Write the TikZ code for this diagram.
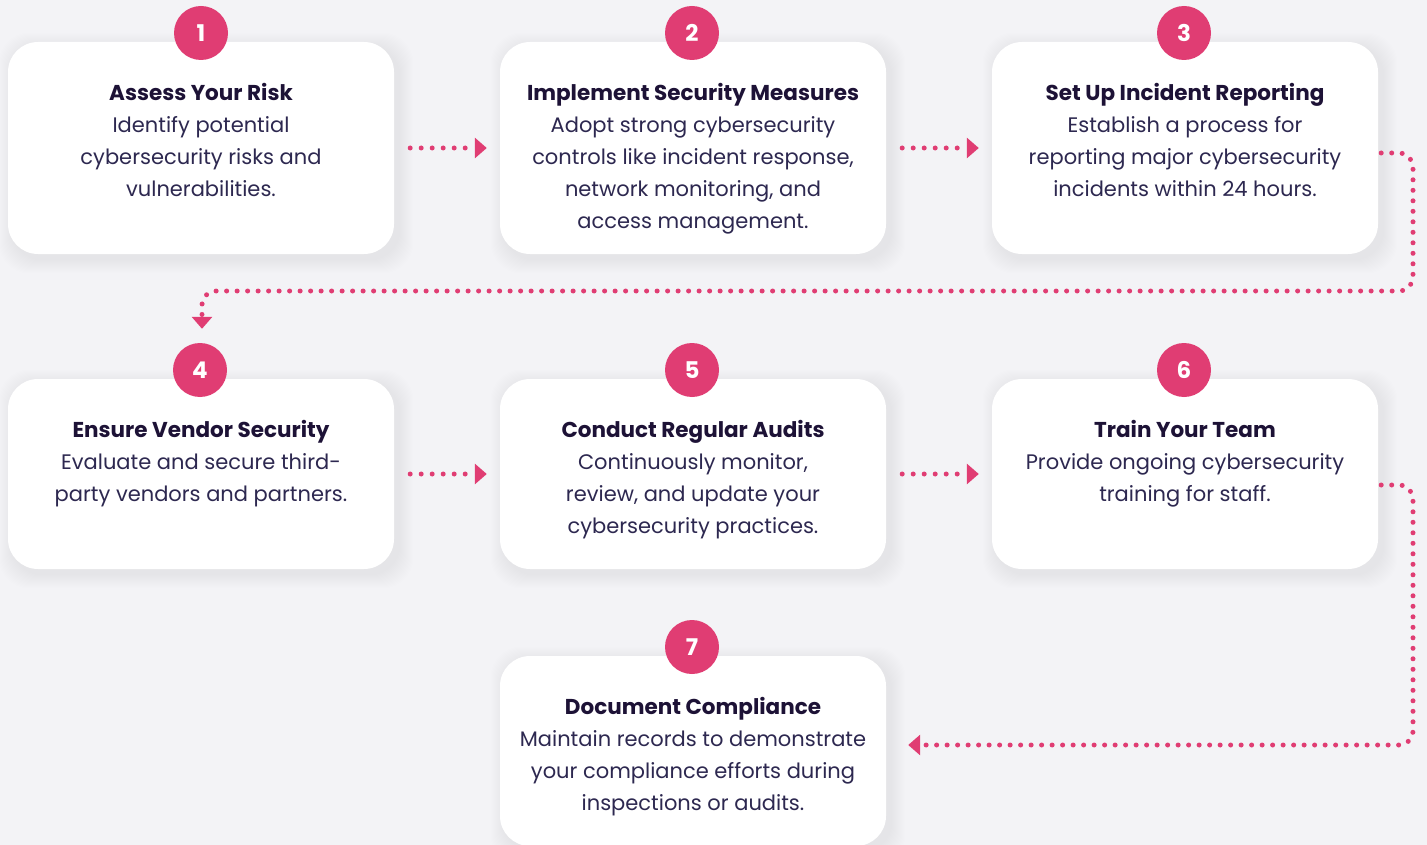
\documentclass[tikz,border=0pt]{standalone}
\usepackage{fontspec}
\setmainfont{Poppins}
\usetikzlibrary{arrows.meta,calc}
\definecolor{bg}{HTML}{F3F3F6}
\definecolor{pink}{HTML}{E03D73}
\definecolor{ink}{HTML}{1D1236}
\definecolor{bodyink}{HTML}{2D2850}
\pgfdeclarelayer{bottom}
\pgfdeclarelayer{background}
\pgfsetlayers{bottom,background,main}
\newcommand\steptitle[1]{{\fontsize{21.5}{32}\selectfont\bfseries\color{ink}#1}}
\tikzset{
  card/.style={rectangle, rounded corners=30pt, fill=white, minimum width=386pt, inner sep=0pt},
  num/.style={circle, fill=pink, minimum size=54pt, inner sep=0pt, text=white, font=\fontsize{23}{23}\selectfont\bfseries},
  txt/.style={align=center, inner sep=0pt, text=bodyink, font=\fontsize{21}{32}\selectfont, anchor=north},
  dots/.style={pink, line width=5pt, line cap=round, dash pattern=on 0pt off 11pt, -{Triangle[length=12pt,width=20pt]}},
}
\begin{document}
\begin{tikzpicture}[x=1pt,y=-1pt]
\begin{pgfonlayer}{bottom}
\fill[bg] (0,0) rectangle (1427,845);
\end{pgfonlayer}
\useasboundingbox (0,0) rectangle (1427,845);

% cards
\node[card, minimum height=212pt] (c1) at (201,148) {};
\node[card, minimum height=212pt] (c2) at (693,148) {};
\node[card, minimum height=212pt] (c3) at (1185,148) {};
\node[card, minimum height=190pt] (c4) at (201,474) {};
\node[card, minimum height=190pt] (c5) at (693,474) {};
\node[card, minimum height=190pt] (c6) at (1185,474) {};
\node[card, minimum height=190pt] (c7) at (693,751) {};

\begin{pgfonlayer}{background}
\foreach \c in {c1,c2,c3,c4,c5,c6,c7}{
  \foreach \i in {1,...,14}{
    \fill[black, opacity=0.005, rounded corners=30pt]
      ($(\c.south west)+(-\i+5,\i+5)$) rectangle ($(\c.north east)+(\i+5,-\i+5)$);
  }
}
\end{pgfonlayer}

% numbers
\node[num] (n1) at (201,33) {1};
\node[num] (n2) at (692,33) {2};
\node[num] (n3) at (1184,33) {3};
\node[num] (n4) at (200,370) {4};
\node[num] (n5) at (692,370) {5};
\node[num] (n6) at (1184,370) {6};
\node[num] (n7) at (692,647) {7};

% texts
\node[txt] (t1) at ($(c1.north)+(0,41)$) {\steptitle{Assess Your Risk}\\Identify potential\\cybersecurity risks and\\vulnerabilities.};
\node[txt] (t2) at ($(c2.north)+(0,41)$) {\steptitle{Implement Security Measures}\\Adopt strong cybersecurity\\controls like incident response,\\network monitoring, and\\access management.};
\node[txt] (t3) at ($(c3.north)+(0,41)$) {\steptitle{Set Up Incident Reporting}\\Establish a process for\\reporting major cybersecurity\\incidents within 24 hours.};
\node[txt] (t4) at ($(c4.north)+(0,41)$) {\steptitle{Ensure Vendor Security}\\Evaluate and secure third-\\party vendors and partners.};
\node[txt] (t5) at ($(c5.north)+(0,41)$) {\steptitle{Conduct Regular Audits}\\Continuously monitor,\\review, and update your\\cybersecurity practices.};
\node[txt] (t6) at ($(c6.north)+(0,41)$) {\steptitle{Train Your Team}\\Provide ongoing cybersecurity\\training for staff.};
\node[txt] (t7) at ($(c7.north)+(0,41)$) {\steptitle{Document Compliance}\\Maintain records to demonstrate\\your compliance efforts during\\inspections or audits.};

% connectors
\draw[dots] ($(c1.east)+(16,0)$) -- ($(c2.west)+(-13,0)$);
\draw[dots] ($(c2.east)+(16,0)$) -- ($(c3.west)+(-13,0)$);
\draw[dots] ($(c4.east)+(16,0)$) -- ($(c5.west)+(-13,0)$);
\draw[dots] ($(c5.east)+(16,0)$) -- ($(c6.west)+(-13,0)$);

\coordinate (r1) at (1413,291);
\coordinate (r2) at (1413,745);
\draw[dots, dash pattern=on 0pt off 10.5pt, rounded corners=14pt]
  ($(c3.east)+(3,5)$) -| (r1) -| ($(n4.north)+(2,-14)$);
\draw[dots, dash pattern=on 0pt off 10.5pt, rounded corners=14pt]
  ($(c6.east)+(3,11)$) -| (r2) -- ($(c7.east)+(22,-6)$);
\end{tikzpicture}
\end{document}
